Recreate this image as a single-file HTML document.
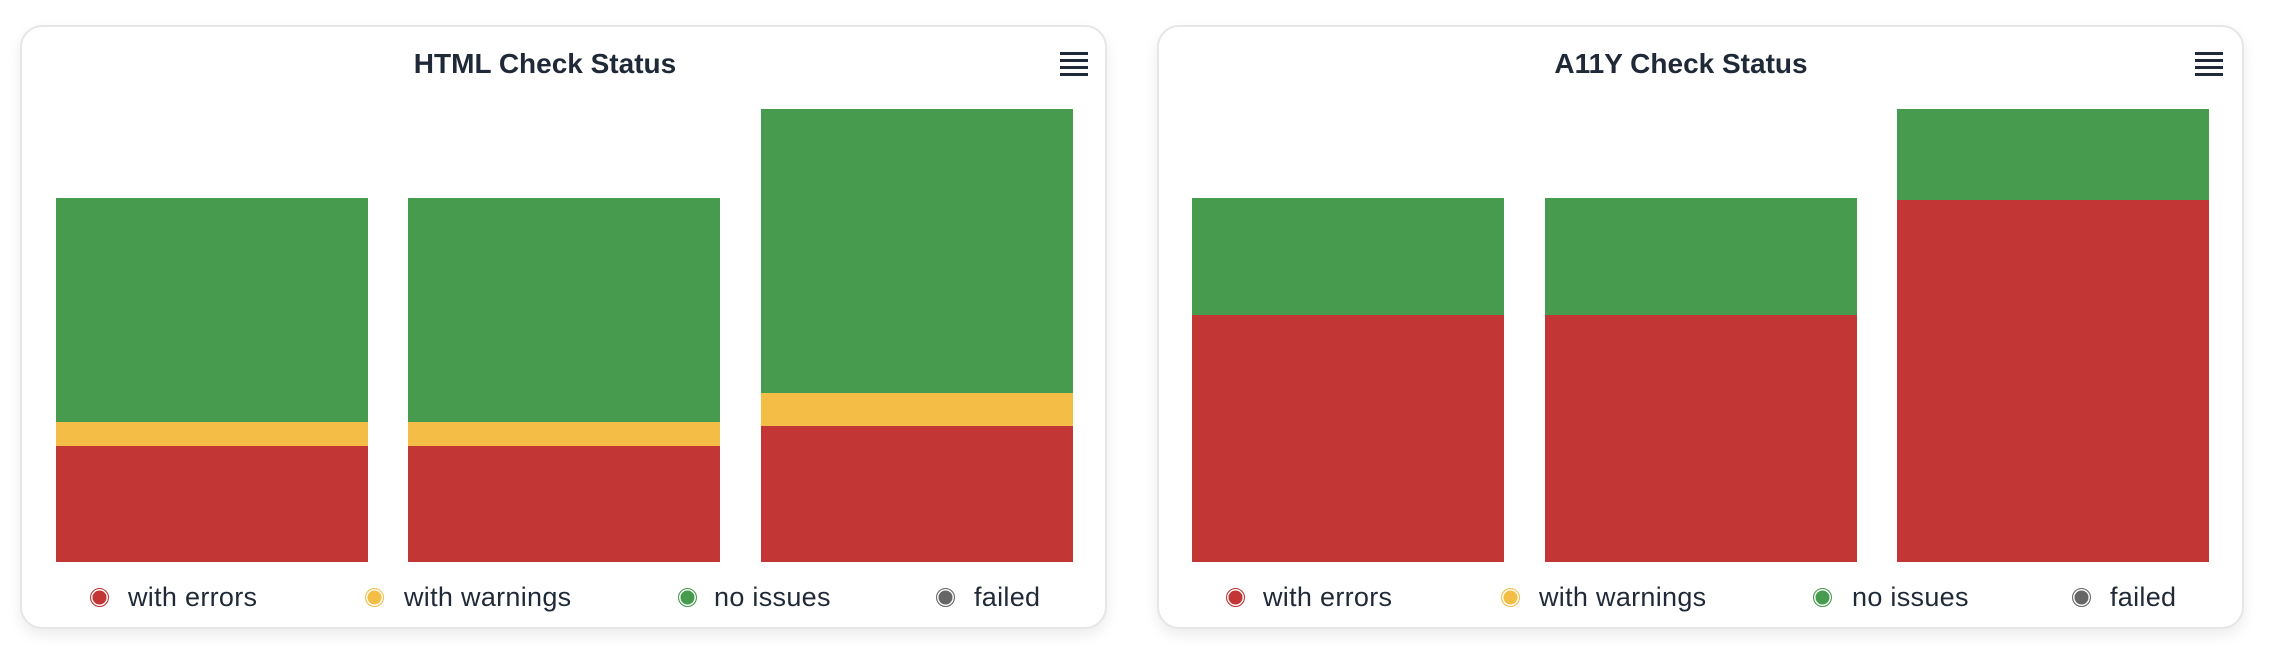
<!DOCTYPE html>
<html><head><meta charset="utf-8"><style>
body{margin:0;width:2272px;height:662px;background:#fff;position:relative;overflow:hidden;font-family:"Liberation Sans",sans-serif;}
.card{position:absolute;top:25px;width:1087px;height:604px;border:2px solid #e6e6e6;border-radius:22px;box-sizing:border-box;box-shadow:0 6px 14px rgba(0,0,0,0.08);background:#fff;}
.t{position:absolute;top:48px;font-weight:bold;font-size:28px;color:#1f2937;white-space:nowrap;transform:translateX(-50%);}
.m{position:absolute;width:28px;height:3px;background:#1f2937;}
.b{position:absolute;}
.g{background:#479b4e}.y{background:#f4be46}.r{background:#c33636}
.c{position:absolute;width:17px;height:17px;border-radius:50%;border:1.5px solid;top:588px;box-shadow:inset 0 0 0 1.5px #fff;}
.l{position:absolute;top:582px;font-size:27px;letter-spacing:0.3px;color:#1f2937;white-space:nowrap;}
</style></head><body>
<div class="card" style="left:20px"></div>
<div class="card" style="left:1157px"></div>
<div class="t" style="left:545px">HTML Check Status</div>
<div class="t" style="left:1681px">A11Y Check Status</div>
<div class="m" style="left:1060px;top:52px"></div><div class="m" style="left:1060px;top:59px"></div><div class="m" style="left:1060px;top:66px"></div><div class="m" style="left:1060px;top:73px"></div>
<div class="m" style="left:2195px;top:52px"></div><div class="m" style="left:2195px;top:59px"></div><div class="m" style="left:2195px;top:66px"></div><div class="m" style="left:2195px;top:73px"></div>

<div class="b g" style="left:56px;width:312px;top:198px;height:224px"></div>
<div class="b y" style="left:56px;width:312px;top:422px;height:24px"></div>
<div class="b r" style="left:56px;width:312px;top:446px;height:116px"></div>
<div class="b g" style="left:408px;width:312px;top:198px;height:224px"></div>
<div class="b y" style="left:408px;width:312px;top:422px;height:24px"></div>
<div class="b r" style="left:408px;width:312px;top:446px;height:116px"></div>
<div class="b g" style="left:761px;width:312px;top:109px;height:284px"></div>
<div class="b y" style="left:761px;width:312px;top:393px;height:33px"></div>
<div class="b r" style="left:761px;width:312px;top:426px;height:136px"></div>

<div class="b g" style="left:1192px;width:312px;top:198px;height:117px"></div>
<div class="b r" style="left:1192px;width:312px;top:315px;height:247px"></div>
<div class="b g" style="left:1545px;width:312px;top:198px;height:117px"></div>
<div class="b r" style="left:1545px;width:312px;top:315px;height:247px"></div>
<div class="b g" style="left:1897px;width:312px;top:109px;height:91px"></div>
<div class="b r" style="left:1897px;width:312px;top:200px;height:362px"></div>

<div class="c" style="left:90px;background:#c33636;border-color:#c33636"></div><div class="l" style="left:128px">with errors</div>
<div class="c" style="left:365px;background:#f4be46;border-color:#f4be46"></div><div class="l" style="left:404px">with warnings</div>
<div class="c" style="left:678px;background:#479b4e;border-color:#479b4e"></div><div class="l" style="left:714px">no issues</div>
<div class="c" style="left:936px;background:#666;border-color:#666"></div><div class="l" style="left:974px">failed</div>

<div class="c" style="left:1226px;background:#c33636;border-color:#c33636"></div><div class="l" style="left:1263px">with errors</div>
<div class="c" style="left:1501px;background:#f4be46;border-color:#f4be46"></div><div class="l" style="left:1539px">with warnings</div>
<div class="c" style="left:1813px;background:#479b4e;border-color:#479b4e"></div><div class="l" style="left:1852px">no issues</div>
<div class="c" style="left:2072px;background:#666;border-color:#666"></div><div class="l" style="left:2110px">failed</div>
</body></html>
